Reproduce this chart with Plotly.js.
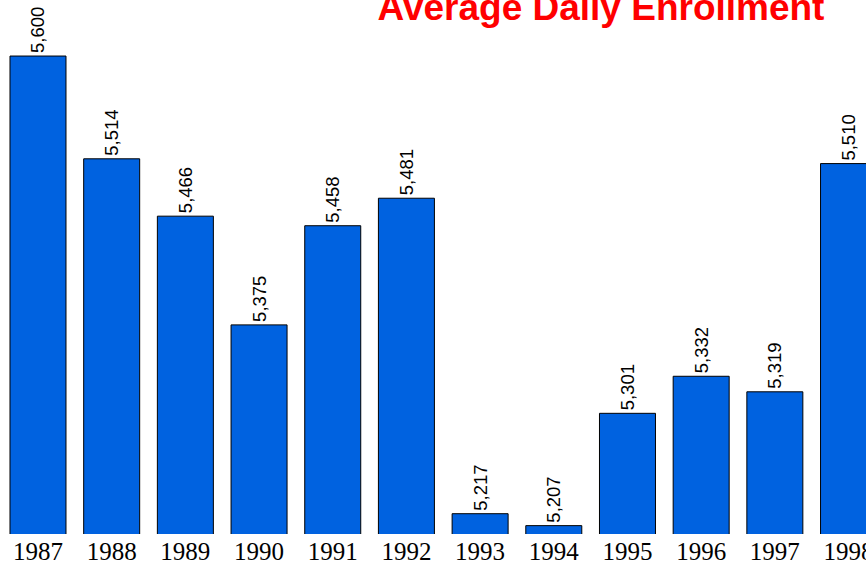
<!DOCTYPE html>
<html>
<head>
<meta charset="utf-8">
<script src="https://cdn.plot.ly/plotly-3.0.1.min.js"></script>
<style>html,body{margin:0;padding:0;overflow:hidden;background:#fff}</style>
</head>
<body>
<div id="chart" style="width:866px;height:563px"></div>
<script>
const years = ["1987","1988","1989","1990","1991","1992","1993","1994","1995","1996","1997","1998"];
const enrollment = [5600, 5514, 5466, 5375, 5458, 5481, 5217, 5207, 5301, 5332, 5319, 5510];
const chartTitle = "Average Daily Enrollment";

const trace = {
  type: "bar",
  x: years,
  y: enrollment,
  marker: {color: "#0062E0", line: {color: "#000000", width: 1}},
  text: enrollment.map(v => v.toLocaleString("en-US")),
  texttemplate: "%{text}",
  textposition: "outside",
  textangle: -90,
  textfont: {family: "Arial, 'Liberation Sans', sans-serif", size: 18.5, color: "#000"},
  cliponaxis: false,
  hoverinfo: "none"
};

const layout = {
  width: 866,
  height: 563,
  margin: {l: 0, r: 0, t: 0, b: 29, pad: 0},
  paper_bgcolor: "#fff",
  plot_bgcolor: "#fff",
  showlegend: false,
  bargap: 0.24,
  title: {
    text: "<b>" + chartTitle + "</b>",
    font: {family: "Arial, 'Liberation Sans', sans-serif", size: 37, color: "#FF0000"},
    xref: "paper", x: 0.694, xanchor: "center",
    yref: "container", y: 1 - 20/563, yanchor: "bottom"
  },
  xaxis: {
    type: "category",
    range: [-0.5156, 11.237],
    showgrid: false, zeroline: false, showline: false,
    ticks: "",
    tickfont: {family: "'Times New Roman', 'Liberation Serif', serif", size: 25, color: "#000"},
    fixedrange: true
  },
  yaxis: {
    range: [5200, 5646.9],
    visible: false,
    showgrid: false, zeroline: false,
    fixedrange: true
  }
};

Plotly.newPlot("chart", [trace], layout, {displayModeBar: false, staticPlot: true});
</script>
</body>
</html>
